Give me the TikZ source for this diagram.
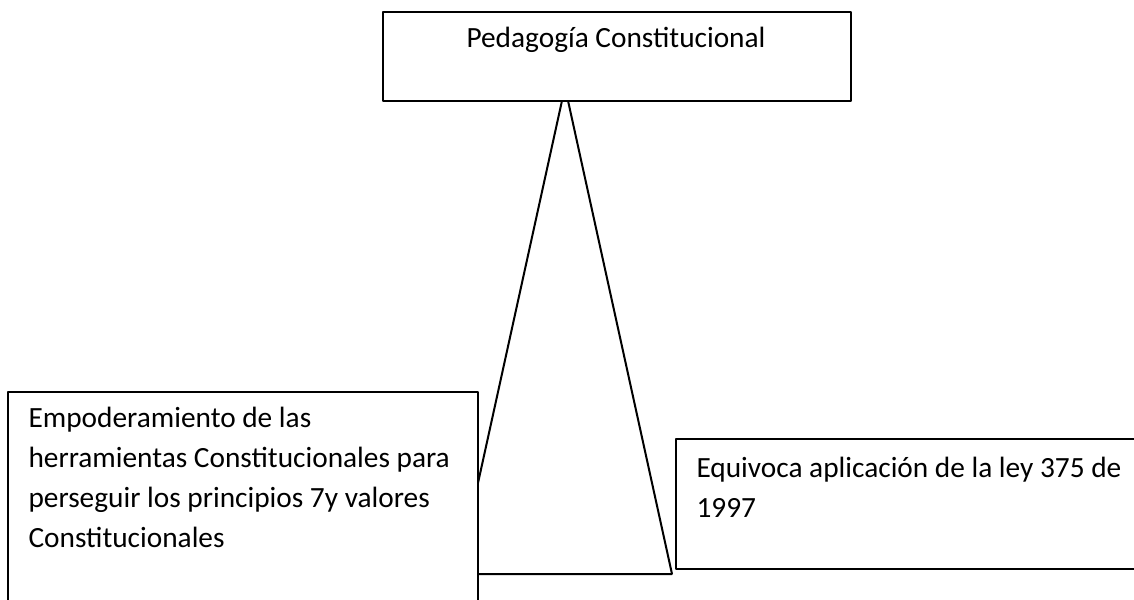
\documentclass[tikz,border=0pt]{standalone}
\usepackage{fontspec}
\setmainfont{Carlito}
\begin{document}
\begin{tikzpicture}[x=0.375pt,y=-0.375pt,line join=bevel,
  box/.style={draw,fill=white,line width=0.75pt,inner sep=0pt,anchor=north west},
  wedge/.style={draw,fill=white,line width=0.75pt},
  txt/.style={inner sep=0pt,font=\fontsize{11pt}{15pt}\selectfont,align=left}]
%%
\clip (0,0) rectangle (1134,599);
\coordinate (apex) at (565,87);
\coordinate (base_l) at (458,574);
\coordinate (base_r) at (672,574);
\draw [wedge] (apex) -- (base_l) -- (base_r) -- cycle;
  \node (node_emp) at (7,391) [box,minimum width=176.25pt,minimum height=90pt] {};
  \node (node_ped) at (382,11) [box,minimum width=175.5pt,minimum height=33.4pt] {};
  \node (node_equ) at (675,438) [box,minimum width=185pt,minimum height=48.75pt] {};
  % multi-line texts sit on the baseline of their last line
  \node (text_ped) at (616,47) [txt,anchor=base] {Pedagogía Constitucional};
  \node (text_emp) at (28,547) [txt,anchor=base west] {Empoderamiento de las\\herramientas Constitucionales para\\perseguir los principios 7y valores\\Constitucionales};
  \node (text_equ) at (696,517) [txt,anchor=base west] {Equivoca aplicación de la ley 375 de\\1997};
%
\end{tikzpicture}
\end{document}
